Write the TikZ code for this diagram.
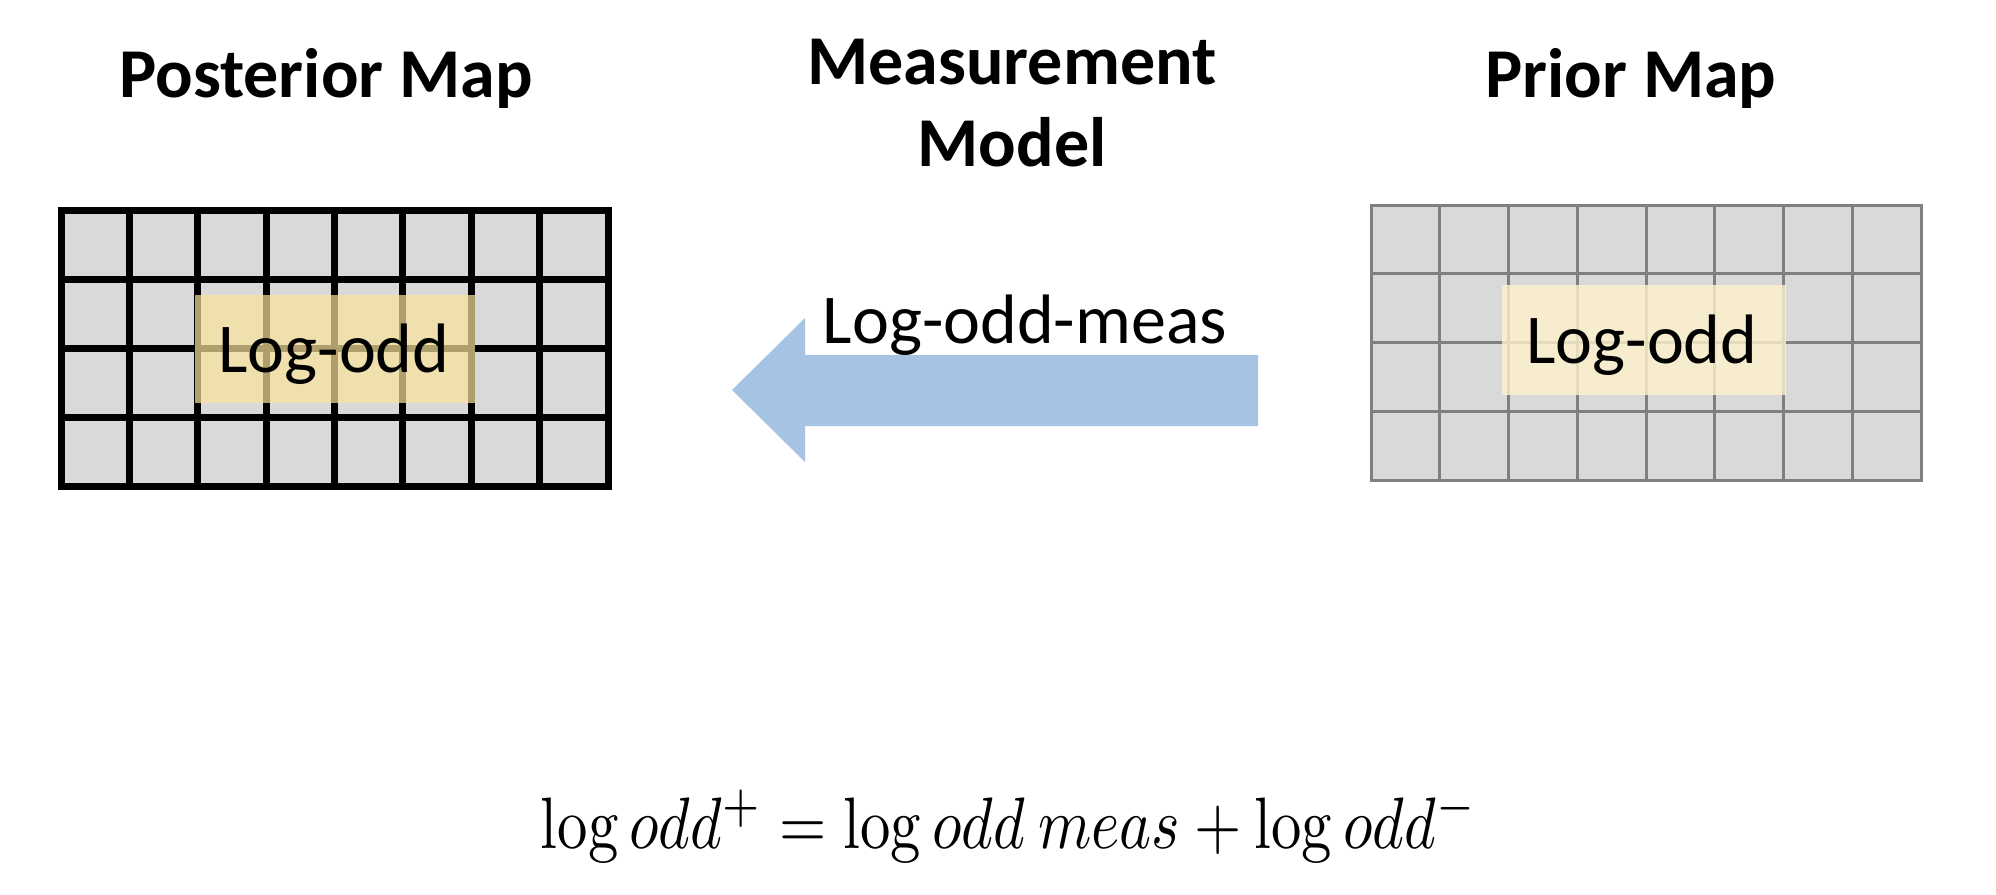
\documentclass[tikz,border=0pt]{standalone}
\usepackage[no-math]{fontspec}
\setmainfont{Carlito}
\usepackage{graphicx}
\definecolor{cellgray}{RGB}{217,217,217}
\definecolor{linegray}{RGB}{127,127,127}
\definecolor{arrowblue}{RGB}{166,195,227}
\definecolor{hiyellowA}{RGB}{250,227,155}
\definecolor{hiyellowB}{RGB}{255,242,204}
\tikzset{
  titletext/.style={anchor=base, inner sep=0pt, font=\fontsize{35}{42}\selectfont\bfseries},
  celltext/.style={anchor=base, inner sep=0pt, font=\fontsize{35}{42}\selectfont},
}
\begin{document}
\begin{tikzpicture}[x=0.5pt, y=-0.5pt]
\useasboundingbox[fill=white] (0,0) rectangle (1996,894);

% Titles
\node[titletext] (post) at (326,97) {Posterior Map};
\node[titletext] (meas1) at (1012,84) {Measurement};
\node[titletext] (meas2) at (1012,166) {Model};
\node[titletext] (prior) at (1631,97) {Prior Map};

% Left (posterior) grid
\fill[cellgray] (61,210) rectangle (608,486);
\foreach \i in {1,...,7} \draw[line width=3.5pt] ({61+\i*68.375},210) -- ({61+\i*68.375},486);
\foreach \j in {1,...,3} \draw[line width=3.5pt] (61,{210+\j*69}) -- (608,{210+\j*69});
\draw[line width=3.5pt] (61,210) rectangle (608,486);
\fill[hiyellowA, fill opacity=0.7] (195,295) rectangle (475,403);
\node[celltext] (lpost) at (334,372) {Log-odd};

% Right (prior) grid
\fill[cellgray] (1371,205) rectangle (1921,480);
\foreach \i in {1,...,7} \draw[linegray, line width=1.5pt] ({1371+\i*68.75},205) -- ({1371+\i*68.75},480);
\foreach \j in {1,...,3} \draw[linegray, line width=1.5pt] (1371,{205+\j*68.75}) -- (1921,{205+\j*68.75});
\draw[linegray, line width=1.5pt] (1371,205) rectangle (1921,480);
\fill[hiyellowB, fill opacity=0.8] (1502,285) rectangle (1786,395);
\node[celltext] (lprior) at (1642,363) {Log-odd};

% Block arrow
\coordinate (tip) at (732,390);
\coordinate (tail) at (1258,390);
\fill[arrowblue] (tip) -- (805,318) -- (805,355) -- (tail |- 0,355) -- (tail |- 0,426) -- (805,426) -- (805,462) -- cycle;
\node[celltext] (meas) at (1025,343) {Log-odd-meas};

% Formula
\node[anchor=base, inner sep=0pt] (formula) at (1009,848)
  {\scalebox{1}[1.2]{\resizebox{468pt}{!}{$\log odd^{+} = \log odd\ meas + \log odd^{-}$}}};
\end{tikzpicture}
\end{document}
